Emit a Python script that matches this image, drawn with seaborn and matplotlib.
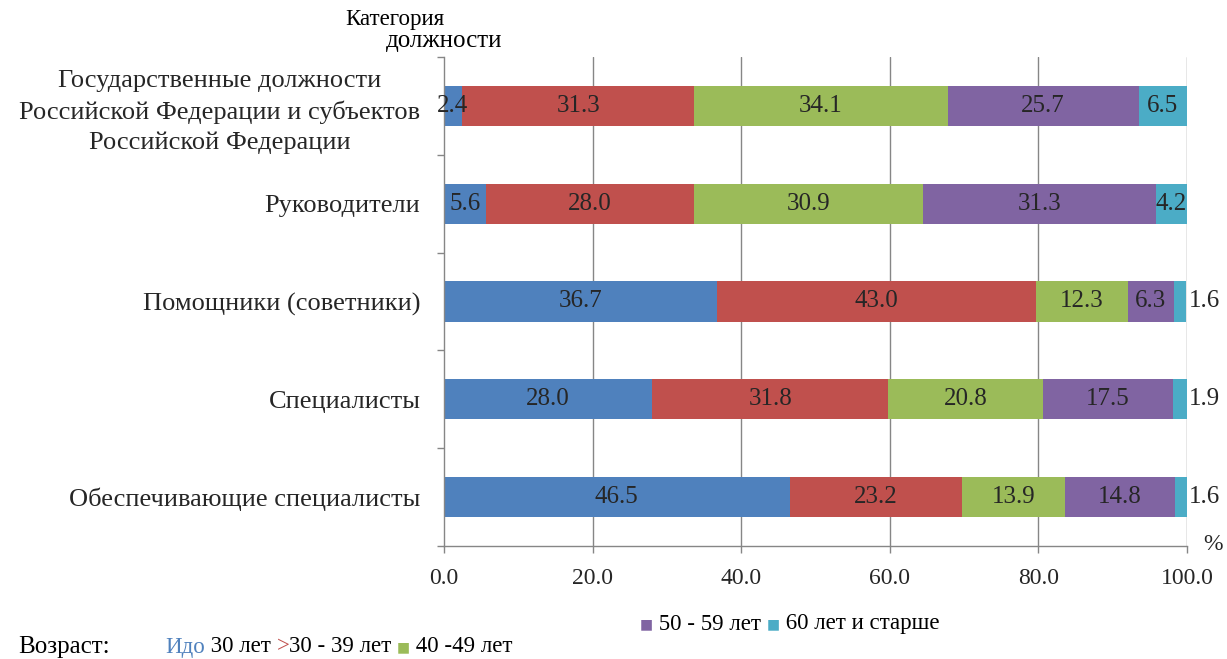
import numpy as np
import pandas as pd
import matplotlib
matplotlib.use("Agg")
import matplotlib.pyplot as plt
import seaborn as sns

# Категории должностей (сверху вниз)
categories = [
    "Государственные должности\nРоссийской Федерации и субъектов\nРоссийской Федерации",
    "Руководители",
    "Помощники (советники)",
    "Специалисты",
    "Обеспечивающие специалисты",
]

# Возрастные группы, %
age_groups = ["до 30 лет", "30 - 39 лет", "40 -49 лет", "50 - 59 лет", "60 лет и старше"]
under_30 = [2.4, 5.6, 36.7, 28.0, 46.5]
age_30_39 = [31.3, 28.0, 43.0, 31.8, 23.2]
age_40_49 = [34.1, 30.9, 12.3, 20.8, 13.9]
age_50_59 = [25.7, 31.3, 6.3, 17.5, 14.8]
age_60_plus = [6.5, 4.2, 1.6, 1.9, 1.6]

x_ticks = [0, 20, 40, 60, 80, 100]

colors = ["#4F81BD", "#C0504D", "#9BBB59", "#8064A2", "#4BACC6"]
text_color = "#262626"
axis_color = "#868686"

sns.set_theme(style="white")
serif = ["Liberation Serif", "DejaVu Serif", "DejaVu Sans"]
plt.rcParams["font.family"] = serif

series = [under_30, age_30_39, age_40_49, age_50_59, age_60_plus]
df = pd.DataFrame({g: v for g, v in zip(age_groups, series)})
df["Категория"] = categories
cum = df[age_groups].cumsum(axis=1)

fig = plt.figure(figsize=(12.27, 6.59), dpi=100)
ax = fig.add_axes([0.3619, 0.1715, 0.6055, 0.742])

# Stacked bars: cumulative totals drawn from the widest to the narrowest
for g, c in reversed(list(zip(age_groups, colors))):
    sns.barplot(x=cum[g], y=df["Категория"], orient="h", color=c,
                width=0.41, saturation=1, ax=ax, linewidth=0, order=categories)

# Value labels
for i in range(len(categories)):
    left = 0.0
    for g in age_groups:
        v = df.loc[i, g]
        if v < 2.0:
            ax.text(cum.loc[i, g] + 0.3, i, f"{v:.1f}", ha="left", va="center",
                    fontsize=18, color=text_color, clip_on=False)
        else:
            ax.text(left + v / 2, i, f"{v:.1f}", ha="center", va="center",
                    fontsize=18, color=text_color)
        left += v

ax.set_xlim(0, 100)
ax.set_ylim(len(categories) - 0.5, -0.5)
ax.set_xlabel("")
ax.set_ylabel("")

ax.set_xticks(x_ticks)
ax.set_xticklabels([f"{t:.1f}" for t in x_ticks], fontsize=17, color=text_color)
ax.set_yticks(range(len(categories)))
ax.set_yticklabels(categories, fontsize=19, color=text_color)
for lbl in ax.get_yticklabels():
    lbl.set_multialignment("center")
    lbl.set_linespacing(1.45)

ax.set_yticks(np.arange(-0.5, len(categories), 1.0), minor=True)
ax.tick_params(axis="y", which="major", length=0, pad=17)
ax.tick_params(axis="y", which="minor", length=5, width=1, color=axis_color, direction="out", left=True)
ax.tick_params(axis="x", which="major", length=5, width=1, color=axis_color, direction="out", bottom=True, pad=11)

ax.grid(False)
for x in x_ticks[1:]:
    ax.axvline(x, color=axis_color, linewidth=1, zorder=0)
ax.set_axisbelow(True)

for side in ["top", "right"]:
    ax.spines[side].set_visible(False)
for side in ["left", "bottom"]:
    ax.spines[side].set_color(axis_color)
    ax.spines[side].set_linewidth(1)

# Axis captions
fig.text(395 / 1227, 1 - 20 / 659, "Категория", ha="center", va="center",
         fontsize=16.5, color="black")
fig.text(444 / 1227, 1 - 41 / 659, "должности", ha="center", va="center",
         fontsize=18, color="black")
fig.text(1213 / 1227, 1 - 545 / 659, "%", ha="center", va="center",
         fontsize=17, color=text_color)

# Legend lines assembled piece by piece
fig.canvas.draw()
renderer = fig.canvas.get_renderer()


def text_run(x_px, y_px, pieces):
    x = x_px
    for s, col, fs, fam in pieces:
        t = fig.text(x / 1227, 1 - y_px / 659, s, ha="left", va="center",
                     fontsize=fs, color=col, family=fam)
        bb = t.get_window_extent(renderer=renderer)
        x += bb.width


sq = ["DejaVu Sans"]
text_run(640, 624, [
    ("■", colors[3], 10, sq), (" 50 - 59 лет ", "black", 16.5, serif),
    ("■", colors[4], 10, sq), (" 60 лет и старше", "black", 16.5, serif),
])
fig.text(18 / 1227, 1 - 647 / 659, "Возраст:", ha="left", va="center",
         fontsize=18, color="black", family=serif)
text_run(165, 647, [
    ("Идо", colors[0], 16.5, serif), (" 30 лет ", "black", 16.5, serif),
    (">", colors[1], 16.5, serif), ("30 - 39 лет ", "black", 16.5, serif),
    ("■", colors[2], 10, sq), (" 40 -49 лет", "black", 16.5, serif),
])

fig.savefig("out.png", dpi=100)
